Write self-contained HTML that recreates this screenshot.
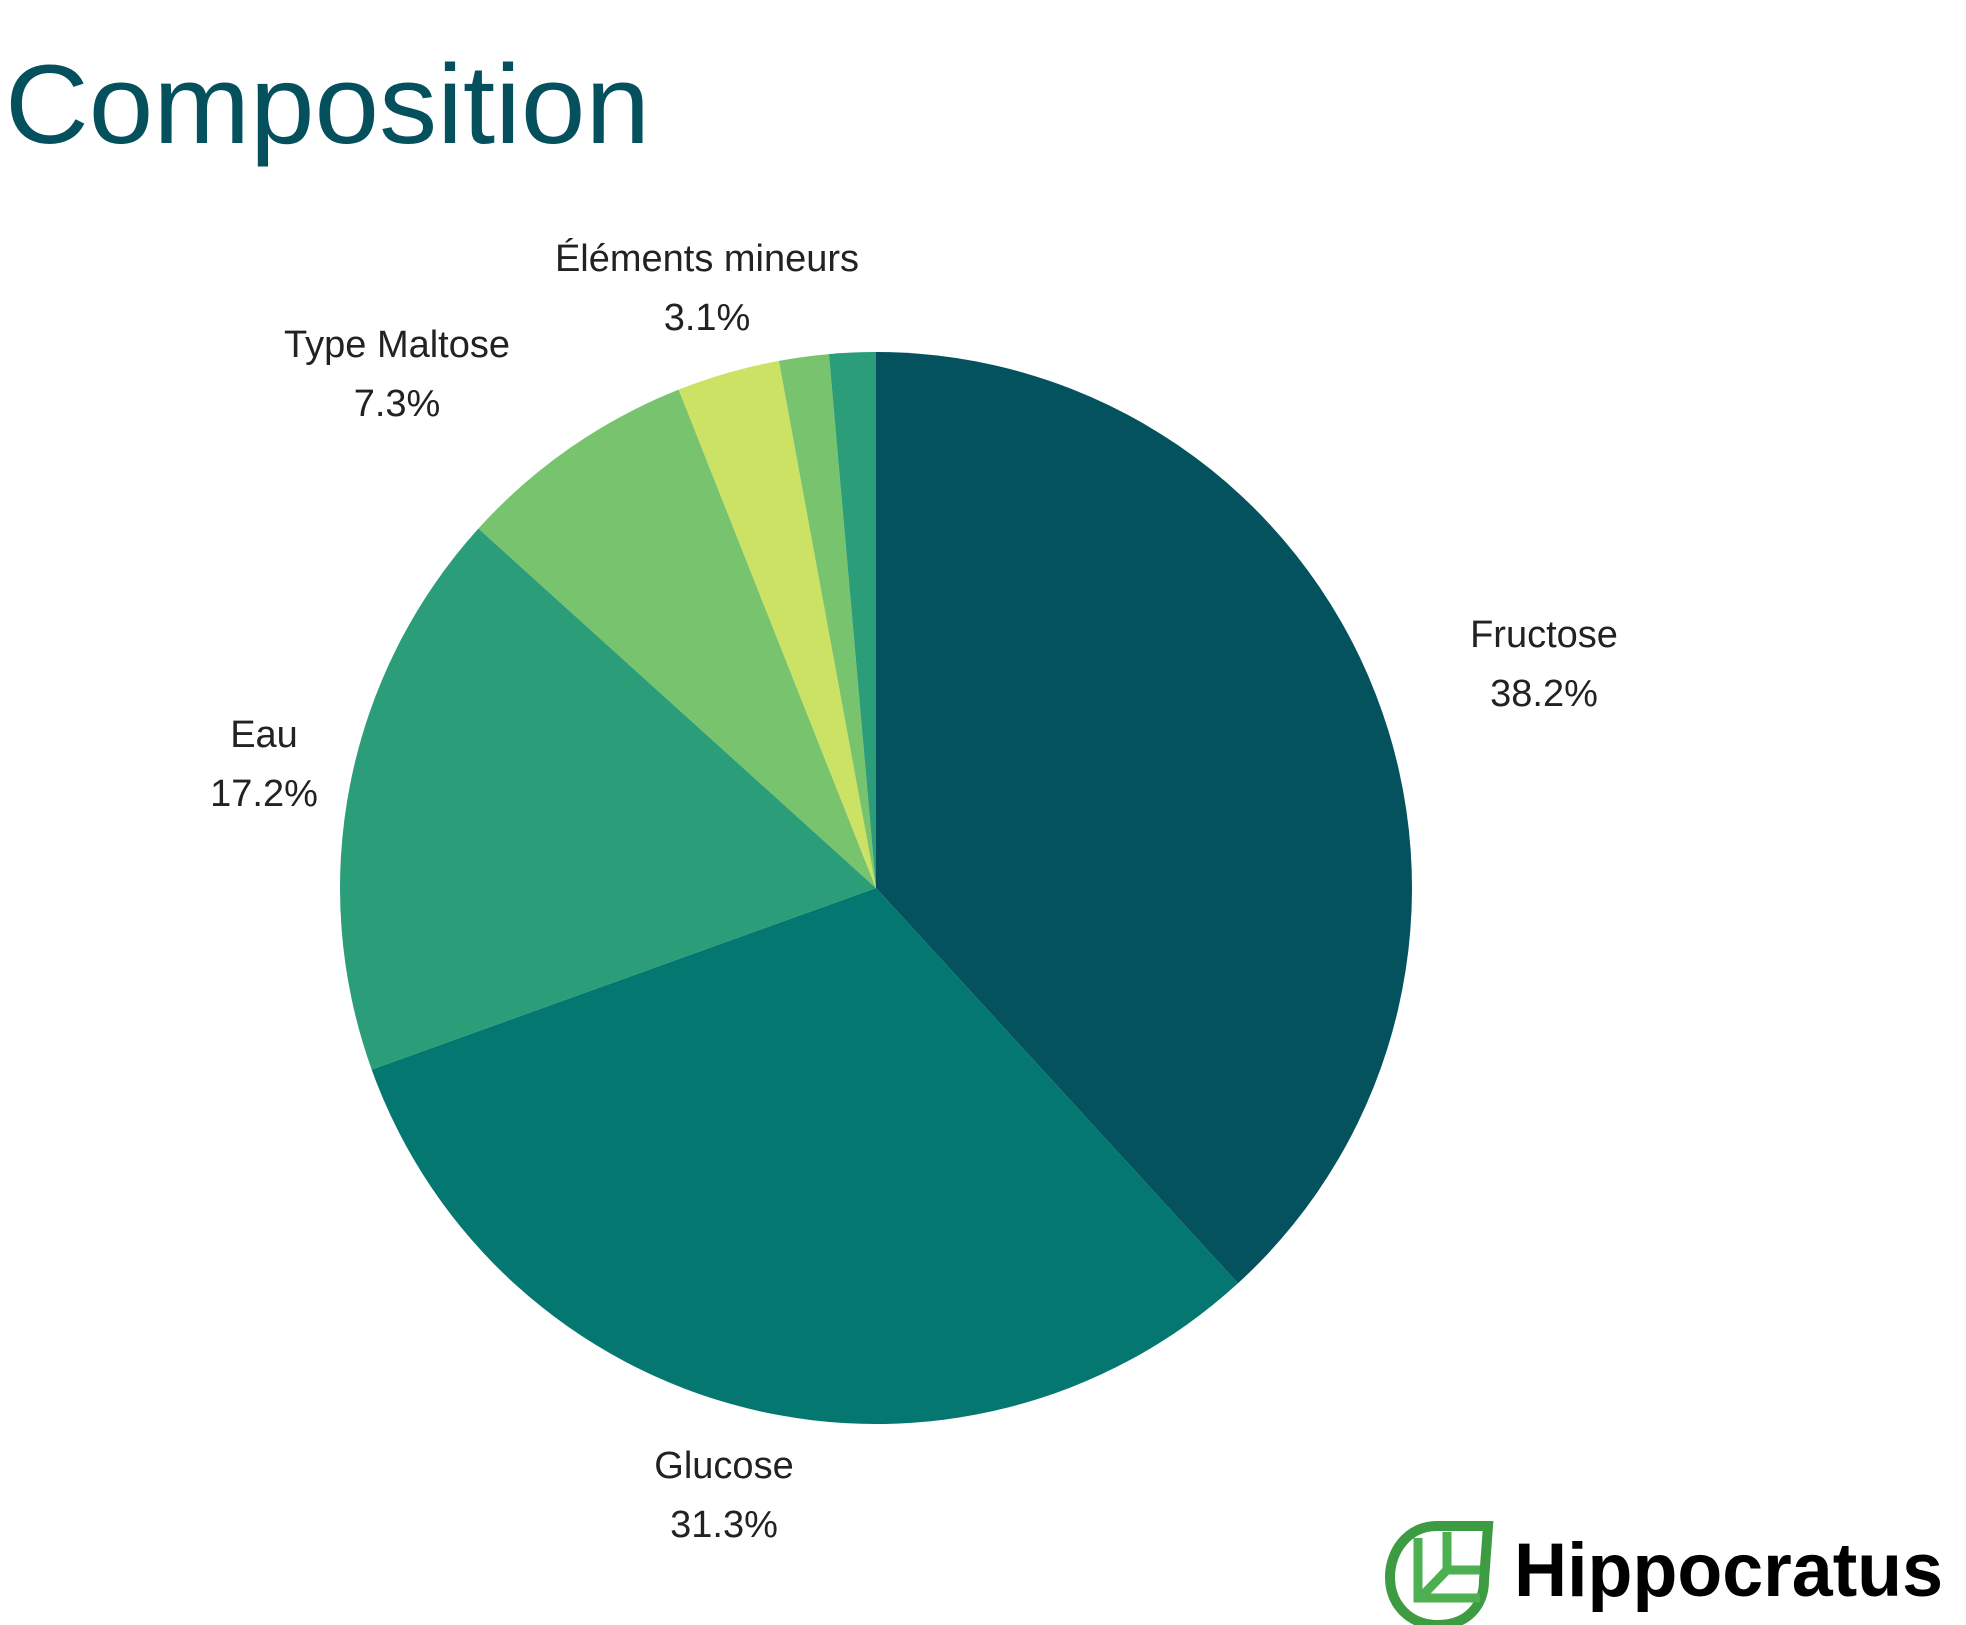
<!DOCTYPE html>
<html><head><meta charset="utf-8"><style>
html,body{margin:0;padding:0;background:#fff;}
svg{display:block;}
</style></head><body>
<svg id="chart" width="1966" height="1625" viewBox="0 0 1966 1625" xmlns="http://www.w3.org/2000/svg">
<text x="5" y="143" font-family="'Liberation Sans', sans-serif" font-size="112" fill="#04505c" textLength="645" lengthAdjust="spacingAndGlyphs">Composition</text>
<g id="slices"></g>
<g id="labels"></g>
<g>
  <path d="M1488 1526 L1437 1526 C1407 1526 1390 1552 1390 1577 C1390 1605 1410 1625 1438 1625 C1468 1625 1484 1605 1484 1580 Z" fill="none" stroke="#3d9b41" stroke-width="10"/>
  <path d="M1418 1538 L1418 1598 L1480 1598 M1447 1532 L1447 1570 L1480 1570 M1447 1570 L1422 1596" fill="none" stroke="#4caf50" stroke-width="9"/>
  <text x="1514" y="1596" font-family="'Liberation Sans', sans-serif" font-weight="bold" font-size="76" fill="#000" textLength="429" lengthAdjust="spacingAndGlyphs">Hippocratus</text>
</g>
</svg>
<script>
const categories = ["Fructose","Glucose","Eau","Type Maltose","Éléments mineurs","Autre 1","Autre 2"];
const values = [38.2, 31.3, 17.2, 7.3, 3.1, 1.5, 1.4];
const colors = ["#03525e","#047771","#2b9e79","#78c46e","#cbe265","#78c46e","#2b9e79"];
const labelPos = [[1544,647],[724,1478],[264,747],[397,357],[707,271]];

const NS = "http://www.w3.org/2000/svg";
const cx = 876, cy = 888, r = 536;
const total = values.reduce((a,b)=>a+b,0);
function angleOf(v){ return v/total*2*Math.PI; }
function pt(a){ return [cx + r*Math.sin(a), cy - r*Math.cos(a)]; }
const g = document.getElementById('slices');
let acc = 0;
values.forEach((v,i)=>{
  const a0 = angleOf(acc), a1 = angleOf(acc+v);
  acc += v;
  const p0 = pt(a0), p1 = pt(a1);
  const large = (a1-a0) > Math.PI ? 1 : 0;
  const path = document.createElementNS(NS,'path');
  path.setAttribute('d', `M${cx},${cy} L${p0[0]},${p0[1]} A${r},${r} 0 ${large} 1 ${p1[0]},${p1[1]} Z`);
  path.setAttribute('fill', colors[i]);
  
  
  g.appendChild(path);
});
const lg = document.getElementById('labels');
labelPos.forEach((p,i)=>{
  const t1 = document.createElementNS(NS,'text');
  t1.setAttribute('x', p[0]); t1.setAttribute('y', p[1]);
  t1.setAttribute('text-anchor','middle');
  t1.setAttribute('font-family',"'Liberation Sans', sans-serif");
  t1.setAttribute('font-size','38'); t1.setAttribute('fill','#222');
  t1.textContent = categories[i];
  
  
  lg.appendChild(t1);
  const t2 = document.createElementNS(NS,'text');
  t2.setAttribute('x', p[0]); t2.setAttribute('y', p[1]+59);
  t2.setAttribute('text-anchor','middle');
  t2.setAttribute('font-family',"'Liberation Sans', sans-serif");
  t2.setAttribute('font-size','38'); t2.setAttribute('fill','#222');
  t2.textContent = values[i].toFixed(1) + '%';
  
  
  lg.appendChild(t2);
});
</script>
</body></html>
